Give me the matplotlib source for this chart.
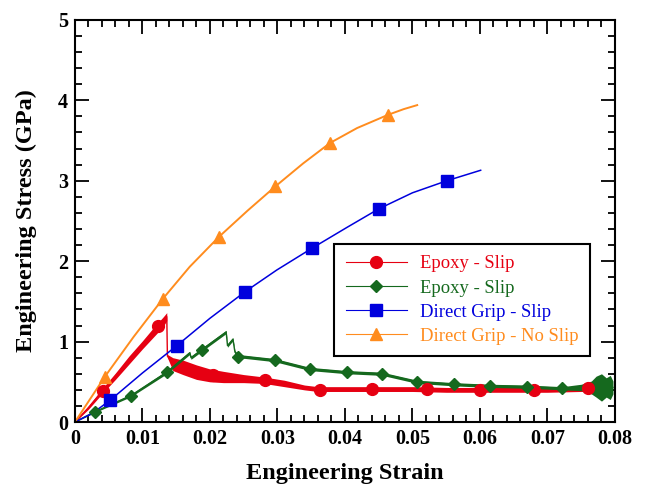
import numpy as np
import matplotlib
matplotlib.use("Agg")
import matplotlib.pyplot as plt
from matplotlib.ticker import MultipleLocator, FuncFormatter

# %%
# Data (strain [-], stress [GPa])
# %%
red_strain = [0, 0.002, 0.004, 0.006, 0.008, 0.010, 0.012, 0.013, 0.0136, 0.0137,
              0.0145, 0.016, 0.018, 0.020, 0.022, 0.025, 0.028, 0.031, 0.034, 0.036,
              0.040, 0.045, 0.050, 0.055, 0.060, 0.065, 0.070, 0.075, 0.078]
red_stress = [0, 0.18, 0.38, 0.57, 0.77, 0.96, 1.15, 1.24, 1.31, 0.82,
              0.72, 0.68, 0.62, 0.58, 0.56, 0.54, 0.52, 0.48, 0.43, 0.41,
              0.41, 0.41, 0.41, 0.40, 0.40, 0.40, 0.40, 0.41, 0.43]
red_band = [0, 0.02, 0.03, 0.04, 0.05, 0.05, 0.06, 0.06, 0.05, 0.02,
            0.08, 0.09, 0.09, 0.08, 0.07, 0.05, 0.04, 0.04, 0.03, 0.03,
            0.03, 0.03, 0.03, 0.03, 0.03, 0.03, 0.03, 0.03, 0.03]
red_mk_strain = [0.0042, 0.0123, 0.0204, 0.0281, 0.0363, 0.044, 0.0521, 0.060, 0.068, 0.076]
red_mk_stress = [0.38, 1.19, 0.58, 0.52, 0.40, 0.41, 0.41, 0.40, 0.40, 0.42]

green_strain = [0, 0.003, 0.0083, 0.0136, 0.017, 0.0172, 0.0188, 0.0224, 0.0226, 0.0234,
                0.0237, 0.0242, 0.0296, 0.0348, 0.0403, 0.0455, 0.0507, 0.0561, 0.0615,
                0.067, 0.0722, 0.075, 0.0765, 0.0772, 0.078, 0.0787, 0.0793, 0.0797]
green_stress = [0, 0.13, 0.33, 0.62, 0.86, 0.80, 0.90, 1.12, 0.95, 1.03,
                0.87, 0.82, 0.77, 0.66, 0.62, 0.60, 0.50, 0.47, 0.45,
                0.44, 0.42, 0.43, 0.43, 0.44, 0.43, 0.43, 0.43, 0.43]
green_band = [0, 0.01, 0.015, 0.02, 0.02, 0.02, 0.02, 0.02, 0.02, 0.02,
              0.02, 0.02, 0.02, 0.02, 0.02, 0.02, 0.02, 0.02, 0.02,
              0.02, 0.02, 0.04, 0.08, 0.13, 0.17, 0.12, 0.15, 0.08]
green_mk_strain = [0.003, 0.0083, 0.0136, 0.0188, 0.0242, 0.0296, 0.0348, 0.0403,
                   0.0455, 0.0507, 0.0561, 0.0615, 0.067, 0.0722]
green_mk_stress = [0.13, 0.33, 0.62, 0.90, 0.81, 0.77, 0.66, 0.62,
                   0.60, 0.50, 0.47, 0.45, 0.44, 0.42]

blue_strain = [0, 0.0026, 0.0052, 0.010, 0.0151, 0.020, 0.0252, 0.0299, 0.0351,
               0.0403, 0.045, 0.050, 0.0551, 0.0601]
blue_stress = [0, 0.11, 0.27, 0.61, 0.95, 1.29, 1.62, 1.89, 2.16,
               2.42, 2.65, 2.85, 3.00, 3.13]
blue_mk_strain = [0.0052, 0.0151, 0.0252, 0.0351, 0.045, 0.0551]
blue_mk_stress = [0.27, 0.95, 1.62, 2.16, 2.65, 3.00]

orange_strain = [0, 0.0044, 0.0087, 0.013, 0.017, 0.0213, 0.0256, 0.0297, 0.0338,
                 0.0378, 0.0418, 0.0464, 0.0487, 0.0507]
orange_stress = [0, 0.56, 1.06, 1.53, 1.93, 2.30, 2.63, 2.93, 3.215,
                 3.47, 3.655, 3.82, 3.89, 3.94]
orange_mk_strain = [0.0044, 0.013, 0.0213, 0.0297, 0.0378, 0.0464]
orange_mk_stress = [0.56, 1.53, 2.30, 2.93, 3.47, 3.82]

labels = ["Epoxy - Slip", "Epoxy - Slip", "Direct Grip - Slip", "Direct Grip - No Slip"]
c_red = "#e60012"
c_green = "#15691e"
c_blue = "#0000dd"
c_orange = "#ff8c1e"

# %%
# Plot
# %%
plt.rcParams["font.family"] = ["Liberation Serif", "DejaVu Serif"]

fig = plt.figure(figsize=(6.46, 4.84), dpi=100)
ax = fig.add_axes([0.116, 0.128, 0.836, 0.831])

# noisy test curves: centre line plus noise band
rs = np.array(red_stress)
rb = np.array(red_band)
ax.fill_between(red_strain, rs - rb, rs + rb, color=c_red, lw=0, zorder=2)
ax.plot(red_strain, red_stress, color=c_red, lw=1, zorder=2)

gs = np.array(green_stress)
gb = np.array(green_band)
ax.fill_between(green_strain, gs - gb, gs + gb, color=c_green, lw=0, zorder=2)
ax.plot(green_strain, green_stress, color=c_green, lw=1, zorder=2)

ax.plot(blue_strain, blue_stress, color=c_blue, lw=1.1, zorder=2)
ax.plot(orange_strain, orange_stress, color=c_orange, lw=1.4, zorder=2)

ax.plot(red_mk_strain, red_mk_stress, "o", color=c_red, ms=8.5, zorder=3)
ax.plot(green_mk_strain, green_mk_stress, "D", color=c_green, ms=6.5, zorder=3)
ax.plot(blue_mk_strain, blue_mk_stress, "s", color=c_blue, ms=8, zorder=3)
ax.plot(orange_mk_strain, orange_mk_stress, "^", color=c_orange, ms=8.5, zorder=3)

# legend proxies
h_red, = ax.plot([], [], "-o", color=c_red, lw=0.8, ms=8.5, label=labels[0])
h_green, = ax.plot([], [], "-D", color=c_green, lw=0.8, ms=6.5, label=labels[1])
h_blue, = ax.plot([], [], "-s", color=c_blue, lw=0.8, ms=8, label=labels[2])
h_orange, = ax.plot([], [], "-^", color=c_orange, lw=0.8, ms=8.5, label=labels[3])
leg = ax.legend(handles=[h_red, h_green, h_blue, h_orange], loc="upper left",
                bbox_to_anchor=(0.48, 0.443), fontsize=13.4, labelcolor="linecolor",
                handlelength=3.3, numpoints=1, fancybox=False, framealpha=1,
                edgecolor="black", borderpad=0.62, labelspacing=0.38,
                handletextpad=0.7, borderaxespad=0)
leg.get_frame().set_linewidth(1.5)

ax.set_xlim(0, 0.08)
ax.set_ylim(0, 5)
ax.xaxis.set_major_locator(MultipleLocator(0.01))
ax.xaxis.set_minor_locator(MultipleLocator(0.002))
ax.yaxis.set_major_locator(MultipleLocator(1))
ax.yaxis.set_minor_locator(MultipleLocator(0.2))
ax.xaxis.set_major_formatter(FuncFormatter(lambda v, p: "0" if abs(v) < 1e-9 else f"{v:.2f}"))
ax.yaxis.set_major_formatter(FuncFormatter(lambda v, p: f"{v:.0f}"))

ax.tick_params(which="both", direction="in", top=True, right=True, width=1.3,
               labelsize=14.5, pad=5)
ax.tick_params(which="major", length=10)
ax.tick_params(which="minor", length=5)
for lab in ax.get_xticklabels() + ax.get_yticklabels():
    lab.set_fontweight("bold")
for sp in ax.spines.values():
    sp.set_linewidth(1.5)

ax.set_xlabel("Engineering Strain", fontsize=17.5, fontweight="bold", labelpad=10)
ax.set_ylabel("Engineering Stress (GPa)", fontsize=17.5, fontweight="bold", labelpad=15)

fig.savefig("out.png", dpi=100)
